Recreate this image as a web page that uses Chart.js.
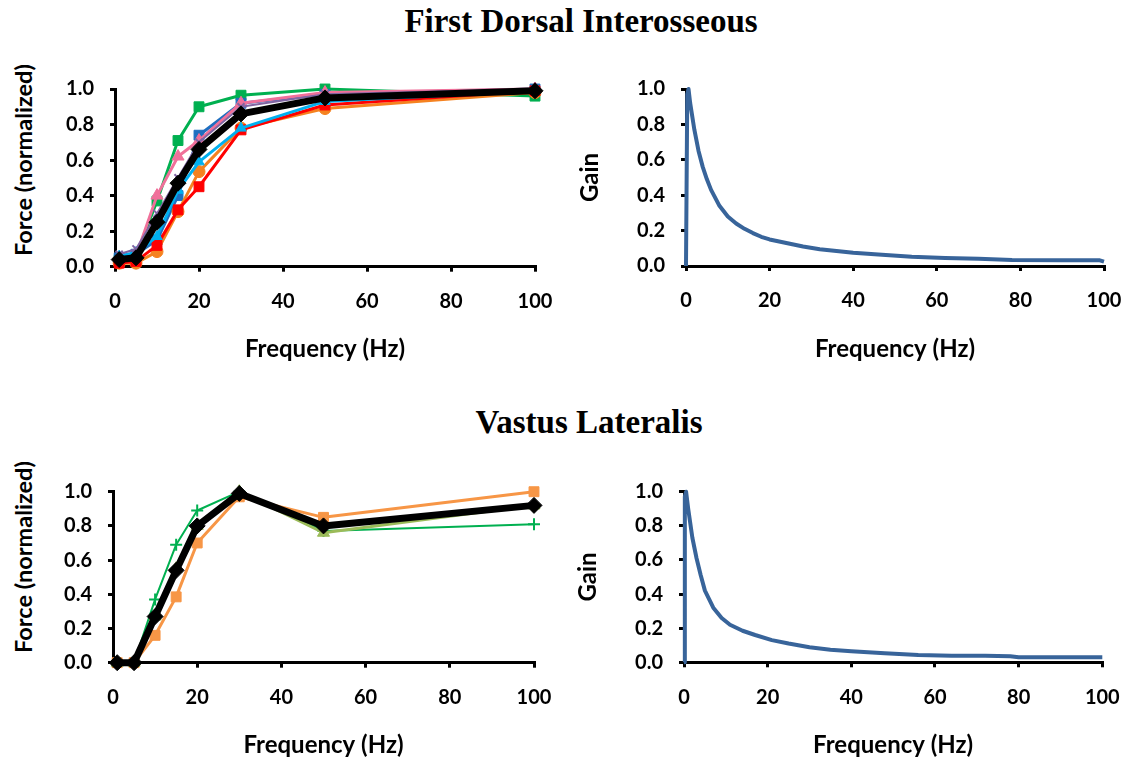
<!DOCTYPE html>
<html>
<head>
<meta charset="utf-8">
<title>Force-frequency and gain</title>
<script src="https://cdn.jsdelivr.net/npm/chart.js@4.4.0/dist/chart.umd.min.js"></script>
<style>
  html, body { margin: 0; padding: 0; background: #fff; }
  body { width: 1128px; height: 760px; position: relative; overflow: hidden; }
  canvas { position: absolute; }
  .title { position: absolute; font-family: "Liberation Serif", "Times New Roman", serif; font-weight: bold;
           font-size: 33px; line-height: 32px; white-space: nowrap; transform: translateX(-50%); }
  .ylab { position: absolute; font-family: Lato, "Open Sans", sans-serif; font-weight: bold; font-size: 23.5px;
          white-space: nowrap; transform: translate(-50%, -50%) rotate(-90deg); }
</style>
</head>
<body>
<div class="title" style="left:581px;top:5px">First Dorsal Interosseous</div>
<div class="title" style="left:589px;top:406px">Vastus Lateralis</div>
<div class="ylab" style="left:23px;top:160px">Force (normalized)</div>
<div class="ylab" style="left:23px;top:557px">Force (normalized)</div>

<canvas id="fdiForce" width="565" height="320" style="left:0;top:50px"></canvas>
<canvas id="fdiGain" width="563" height="320" style="left:565px;top:50px"></canvas>
<canvas id="vlForce" width="565" height="310" style="left:0;top:450px"></canvas>
<canvas id="vlGain" width="563" height="310" style="left:565px;top:450px"></canvas>

<script>
// stimulation frequencies (Hz)
const FREQ = [1, 5, 10, 15, 20, 30, 50, 100];

// First Dorsal Interosseous - normalized force per subject, and the mean
const fdiRed    = [0.02, 0.03, 0.12, 0.32, 0.45, 0.77, 0.91, 0.99];
const fdiOrange = [0.02, 0.02, 0.085, 0.31, 0.535, 0.78, 0.89, 0.98];
const fdiGreen  = [0.04, 0.06, 0.37, 0.71, 0.90, 0.965, 1.0, 0.96];
const fdiBlue   = [0.05, 0.07, 0.15, 0.40, 0.74, 0.92, 0.97, 1.0];
const fdiCyan   = [0.06, 0.08, 0.17, 0.43, 0.59, 0.78, 0.93, 0.99];
const fdiPink   = [0.04, 0.06, 0.40, 0.62, 0.71, 0.92, 0.98, 1.0];
const fdiPurple = [0.07, 0.10, 0.30, 0.50, 0.70, 0.90, 0.97, 1.0];
const fdiMean   = [0.04, 0.05, 0.25, 0.47, 0.66, 0.86, 0.95, 0.99];

// Vastus Lateralis - normalized force
const vlGreen  = [0, 0, 0.37, 0.69, 0.89, 1.0, 0.77, 0.81];
const vlOrange = [0, 0, 0.16, 0.385, 0.70, 0.97, 0.85, 1.0];
const vlOlive  = [0, 0, 0.27, 0.55, 0.80, 1.0, 0.76, 0.92];
const vlMean   = [0, 0, 0.27, 0.54, 0.80, 0.99, 0.80, 0.92];

// gain curves
const fdiGainFreq = [0, 0.3, 0.6, 1, 2, 3, 4, 5, 6, 8, 10, 12, 14, 16, 18, 20, 24, 28, 32, 36, 40, 46, 54, 62, 70, 78, 90, 99, 100];
const fdiGainVal  = [0, 0.97, 1.0, 0.92, 0.77, 0.65, 0.56, 0.49, 0.43, 0.34, 0.28, 0.24, 0.21, 0.186, 0.165, 0.15, 0.13, 0.11, 0.095, 0.085, 0.075, 0.065, 0.052, 0.045, 0.041, 0.034, 0.033, 0.032, 0.025];
const vlGainFreq = [0, 0.2, 0.5, 1, 2, 3, 4, 5, 6, 7, 9, 11, 14, 17, 21, 25, 30, 35, 40, 48, 56, 64, 72, 78, 80, 90, 100];
const vlGainVal  = [0, 0.97, 1.0, 0.90, 0.73, 0.61, 0.51, 0.42, 0.37, 0.32, 0.26, 0.22, 0.185, 0.16, 0.13, 0.11, 0.088, 0.074, 0.065, 0.053, 0.043, 0.039, 0.039, 0.035, 0.029, 0.029, 0.029];

const X_TICKS = [0, 20, 40, 60, 80, 100];
const Y_TICKS = [0, 0.2, 0.4, 0.6, 0.8, 1.0];

const TICK_FONT = {family: 'Lato, "Open Sans", sans-serif', size: 20, weight: 'bold'};
const TITLE_FONT = {family: 'Lato, "Open Sans", sans-serif', size: 24, weight: 'bold'};

function pts(xs, ys) {
  return xs.map((x, i) => ({x: x, y: ys[i]}));
}

function series(ys, color, style, width, radius, order, xs) {
  return {
    data: pts(xs || FREQ, ys),
    borderColor: color,
    backgroundColor: color,
    borderWidth: width,
    borderJoinStyle: 'round',
    pointStyle: style,
    pointRadius: radius,
    pointBorderWidth: style === 'cross' || style === 'crossRot' ? 2 : 1,
    pointBorderColor: color,
    pointBackgroundColor: color,
    order: order,
    clip: false
  };
}

function makeChart(id, datasets, box) {
  const axisGrid = {drawOnChartArea: false, color: '#000', lineWidth: 3, tickLength: 5};
  const axisBorder = {color: '#000', width: 3};
  return new Chart(document.getElementById(id), {
    type: 'line',
    data: {datasets: datasets},
    options: {
      responsive: false,
      animation: false,
      layout: {padding: {top: box.top, right: box.right, left: 0, bottom: 0}},
      plugins: {legend: {display: false}, tooltip: {enabled: false}},
      scales: {
        x: {
          type: 'linear', min: 0, max: 100,
          afterBuildTicks: s => { s.ticks = X_TICKS.map(v => ({value: v})); },
          ticks: {font: TICK_FONT, color: '#000', padding: 18, maxRotation: 0},
          grid: axisGrid, border: axisBorder,
          title: {display: true, text: 'Frequency (Hz)', font: TITLE_FONT, color: '#000',
                  padding: {top: 0, bottom: box.xTitlePad}},
          afterFit: s => { s.height = box.xH; s.paddingLeft = 0; s.paddingRight = 0; }
        },
        y: {
          type: 'linear', min: 0, max: 1,
          afterBuildTicks: s => { s.ticks = Y_TICKS.map(v => ({value: v})); },
          ticks: {font: TICK_FONT, color: '#000', padding: 16, callback: v => v.toFixed(1)},
          grid: axisGrid, border: axisBorder,
          title: box.yTitle ? {display: true, text: box.yTitle, font: TITLE_FONT, color: '#000',
                               padding: {top: box.yTitlePad, bottom: 0}} : {display: false},
          afterFit: s => { s.width = box.yW; s.paddingTop = 0; s.paddingBottom = 0; }
        }
      }
    }
  });
}

// First Dorsal Interosseous force
makeChart('fdiForce', [
  series(fdiMean, '#000000', 'rectRot', 7, 8, 0),
  series(fdiPurple, '#8064A2', 'crossRot', 2, 5, 1),
  series(fdiCyan, '#00B0F0', 'triangle', 3, 6, 2),
  series(fdiRed, '#FF0000', 'rect', 3, 7, 3),
  series(fdiOrange, '#F58220', 'circle', 3, 6, 4),
  series(fdiPink, '#F0709A', 'triangle', 3, 7, 5),
  series(fdiBlue, '#1F6FC0', 'rect', 3, 7, 6),
  series(fdiGreen, '#00B050', 'rect', 3, 7, 7)
], {top: 39, right: 30, xH: 103.3, yW: 115, xTitlePad: 6.5});

makeChart('fdiGain', [
  series(fdiGainVal, '#38649A', 'circle', 4, 0, 0, fdiGainFreq)
], {top: 39, right: 24, xH: 104, yW: 121, xTitlePad: 6.5, yTitle: 'Gain', yTitlePad: 10.5});

// Vastus Lateralis force
makeChart('vlForce', [
  series(vlMean, '#000000', 'rectRot', 7, 8, 0),
  series(vlOlive, '#9BBB59', 'triangle', 3, 7, 1),
  series(vlGreen, '#00B050', 'cross', 2, 6, 2),
  series(vlOrange, '#F79646', 'rect', 3, 7, 3)
], {top: 41.7, right: 31, xH: 97.3, yW: 113, xTitlePad: 0.5});

makeChart('vlGain', [
  series(vlGainVal, '#38649A', 'circle', 4, 0, 0, vlGainFreq)
], {top: 41.7, right: 25.7, xH: 97.7, yW: 119, xTitlePad: 0.5, yTitle: 'Gain', yTitlePad: 8.5});
</script>
</body>
</html>
